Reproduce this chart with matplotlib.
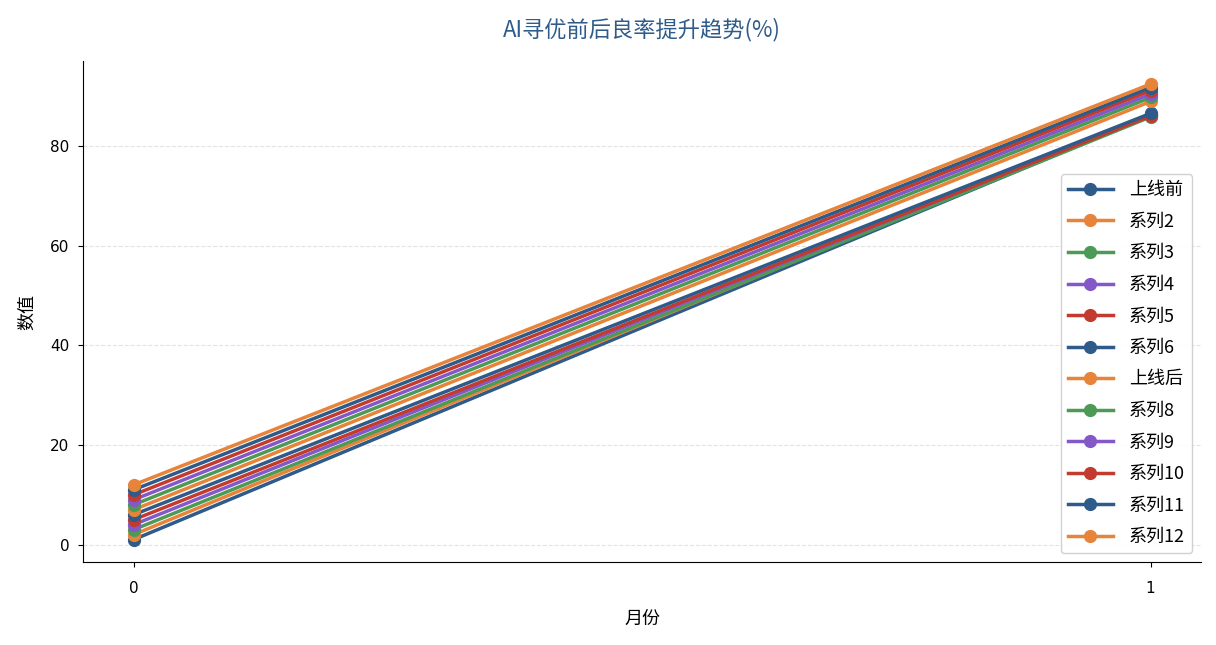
import numpy as np
import matplotlib
matplotlib.use("Agg")
import matplotlib.pyplot as plt

plt.rcParams['font.family'] = ['Noto Sans CJK SC', 'DejaVu Sans']
plt.rcParams['axes.unicode_minus'] = False

# data
months = [0, 1]
series_names = ['上线前', '系列2', '系列3', '系列4', '系列5', '系列6',
                '上线后', '系列8', '系列9', '系列10', '系列11', '系列12']
start_vals = [1, 2, 3, 4, 5, 6, 7, 8, 9, 10, 11, 12]
end_vals = [86.2, 86.5, 85.9, 86.3, 86.1, 86.6, 89.0, 89.8, 90.5, 91.2, 91.8, 92.5]

palette = ['#2E5B8A', '#E8833A', '#4C9A55', '#8458C8', '#C23B2E']

fig, ax = plt.subplots(figsize=(12.16, 6.45), dpi=100)
fig.subplots_adjust(left=0.068, right=0.988, top=0.905, bottom=0.128)

for i, name in enumerate(series_names):
    ax.plot(months, [start_vals[i], end_vals[i]], marker='o', markersize=8.5,
            linewidth=2.5, color=palette[i % len(palette)], label=name)

ax.set_title('AI寻优前后良率提升趋势(%)', fontsize=16, color='#2E5B8A', pad=18)
ax.set_xlabel('月份', fontsize=13, labelpad=10)
ax.set_ylabel('数值', fontsize=13, labelpad=10)
ax.set_xticks(months)
ax.set_yticks([0, 20, 40, 60, 80])
ax.tick_params(axis='x', labelsize=11, pad=10)
ax.tick_params(axis='y', labelsize=11, pad=6)
for lbl in ax.get_xticklabels() + ax.get_yticklabels():
    lbl.set_family('DejaVu Sans')
ax.grid(axis='y', linestyle='--', color='#dddddd', alpha=0.8)
ax.set_axisbelow(True)
ax.spines['top'].set_visible(False)
ax.spines['right'].set_visible(False)
ax.legend(loc='lower right', fontsize=13, framealpha=0.9, handlelength=2.5,
          labelspacing=0.75, handletextpad=0.9)

fig.savefig('out.png', dpi=100)
